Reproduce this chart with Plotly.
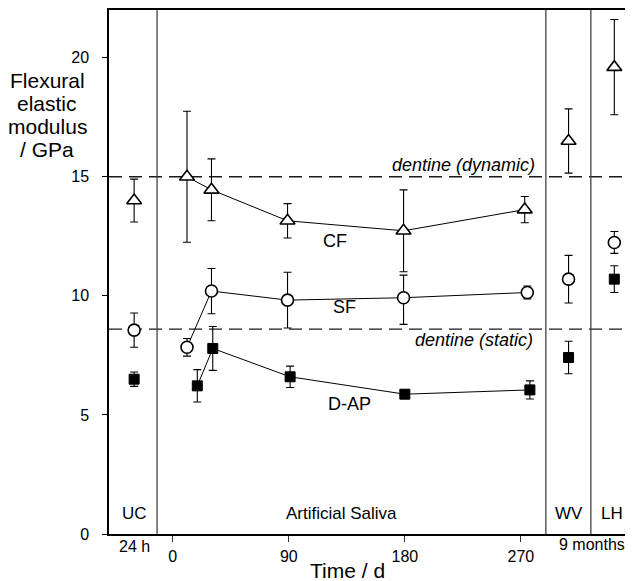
import plotly.graph_objects as go

# ---------------- data ----------------
# x positions on a single day axis (UC, WV, LH are placed in their own bands)
uc_x = -30
wv_x = 307
lh_x = 342.5

# CF (triangles)
cf_days = [11, 30, 89, 179, 273]
cf_vals = [15.0, 14.45, 13.15, 12.73, 13.62]
cf_err = [2.75, 1.3, 0.72, 1.72, 0.55]
cf_other_x = [uc_x, wv_x, lh_x]
cf_other_vals = [14.0, 16.5, 19.6]
cf_other_err = [0.9, 1.35, 2.0]

# SF (circles)
sf_days = [11, 30, 89, 179, 275]
sf_vals = [7.84, 10.2, 9.82, 9.92, 10.14]
sf_err_plus = [0.37, 0.95, 1.17, 0.95, 0.27]
sf_err_minus = [0.37, 0.95, 1.17, 1.12, 0.27]
sf_other_x = [uc_x, wv_x, lh_x]
sf_other_vals = [8.56, 10.7, 12.24]
sf_other_err = [0.72, 1.0, 0.46]

# D-AP (filled squares)
dap_days = [19, 31, 91, 180, 277]
dap_vals = [6.22, 7.79, 6.6, 5.87, 6.05]
dap_err = [0.68, 0.92, 0.45, 0.1, 0.38]
dap_other_x = [uc_x, wv_x, lh_x]
dap_other_vals = [6.5, 7.41, 10.7]
dap_other_err = [0.3, 0.68, 0.56]

# reference lines
dentine_dynamic = 15.0
dentine_static = 8.6

# band separators (day axis) and band labels
separators = [-12.2, 289.4, 324.3]
band_labels = ["UC", "Artificial Saliva", "WV", "LH"]
band_label_x = [-30, 131, 307, 340.5]

# x ticks
x_tickvals = [0, 90, 180, 270]
x_ticktext = ["0", "90", "180", "270"]
y_tickvals = [0, 5, 10, 15, 20]

# y title lines
y_title_lines = ["Flexural", "elastic", "modulus", "/ GPa"]

FONT = "Arial, Liberation Sans, sans-serif"
PLOT_H = 524.0  # plot area height in px
PLOT_W = 524.0
AXIS_PX = 534.7  # page y of the x-axis line

fig = go.Figure()

def eb(arr, arrm=None):
    d = dict(type="data", array=arr, color="black", thickness=1.1, width=4, visible=True)
    if arrm is not None:
        d["symmetric"] = False
        d["arrayminus"] = arrm
    return d

tri = dict(symbol="triangle-up", size=13, color="white", line=dict(color="black", width=1.6))
cir = dict(symbol="circle", size=12, color="white", line=dict(color="black", width=1.6))
sq = dict(symbol="square", size=10, color="black", line=dict(color="black", width=1))

# CF
fig.add_trace(go.Scatter(x=cf_days, y=cf_vals, mode="lines+markers",
                         line=dict(color="black", width=1), marker=tri,
                         error_y=eb(cf_err), showlegend=False))
fig.add_trace(go.Scatter(x=cf_other_x, y=cf_other_vals, mode="markers", marker=tri,
                         error_y=eb(cf_other_err), showlegend=False))
# SF
fig.add_trace(go.Scatter(x=sf_days, y=sf_vals, mode="lines+markers",
                         line=dict(color="black", width=1), marker=cir,
                         error_y=eb(sf_err_plus, sf_err_minus), showlegend=False))
fig.add_trace(go.Scatter(x=sf_other_x, y=sf_other_vals, mode="markers", marker=cir,
                         error_y=eb(sf_other_err), showlegend=False))
# D-AP
fig.add_trace(go.Scatter(x=dap_days, y=dap_vals, mode="lines+markers",
                         line=dict(color="black", width=1), marker=sq,
                         error_y=eb(dap_err), showlegend=False))
fig.add_trace(go.Scatter(x=dap_other_x, y=dap_other_vals, mode="markers", marker=sq,
                         error_y=eb(dap_other_err), showlegend=False))

shapes = []
for yv in [dentine_dynamic, dentine_static]:
    shapes.append(dict(type="line", xref="paper", x0=0, x1=1, yref="y", y0=yv, y1=yv,
                       line=dict(color="#1a1a1a", width=1.3, dash="13px,7px"), layer="below"))
for sx in separators:
    shapes.append(dict(type="line", xref="x", x0=sx, x1=sx, yref="paper", y0=0, y1=1,
                       line=dict(color="#444", width=1.3), layer="below"))

annotations = []
for lab, lx in zip(band_labels, band_label_x):
    annotations.append(dict(x=lx, y=0.85, xref="x", yref="y", text=lab, showarrow=False,
                            font=dict(family=FONT, size=17, color="black")))
annotations += [
    dict(x=282.5, y=15.5, xref="x", yref="y", text="<i>dentine (dynamic)</i>", showarrow=False,
         xanchor="right", font=dict(family=FONT, size=18, color="black")),
    dict(x=281, y=8.14, xref="x", yref="y", text="<i>dentine (static)</i>", showarrow=False,
         xanchor="right", font=dict(family=FONT, size=18, color="black")),
    dict(x=125.7, y=12.31, xref="x", yref="y", text="CF", showarrow=False,
         font=dict(family=FONT, size=18, color="black")),
    dict(x=133.4, y=9.51, xref="x", yref="y", text="SF", showarrow=False,
         font=dict(family=FONT, size=18, color="black")),
    dict(x=136.7, y=5.45, xref="x", yref="y", text="D-AP", showarrow=False,
         font=dict(family=FONT, size=18, color="black")),
    # labels below the axis (pixel offsets below the x axis line converted to paper units)
    dict(x=uc_x, y=-12.5 / PLOT_H, xref="x", yref="paper", text="24 h", showarrow=False,
         yanchor="middle", font=dict(family=FONT, size=16, color="black")),
    dict(x=(592 - 172.8) / 1.289, y=-10 / PLOT_H, xref="x", yref="paper", text="9 months",
         showarrow=False, yanchor="middle", font=dict(family=FONT, size=16, color="black")),
    dict(x=(347 - 109) / PLOT_W, y=-36 / PLOT_H, xref="paper", yref="paper", text="Time / d",
         showarrow=False, yanchor="middle", font=dict(family=FONT, size=21, color="black")),
]
# y-axis title, one annotation per line (page pixel centres)
for line_text, py in zip(y_title_lines, [81, 104, 127, 150]):
    annotations.append(dict(x=(47 - 109) / PLOT_W, y=(AXIS_PX - py) / PLOT_H,
                            xref="paper", yref="paper", text=line_text, showarrow=False,
                            xanchor="center", yanchor="middle",
                            font=dict(family=FONT, size=21, color="black")))

# the page body has an 8px margin, so the figure is shifted by 8px; compensate
fig.update_layout(
    width=625, height=573,
    margin=dict(l=101, r=0, t=2, b=47),
    paper_bgcolor="white", plot_bgcolor="white",
    font=dict(family=FONT, size=15, color="black"),
    shapes=shapes, annotations=annotations,
    xaxis=dict(range=[-49.5, 357], tickvals=x_tickvals, ticktext=x_ticktext,
               ticks="outside", ticklen=6, tickwidth=1.1, tickcolor="#333",
               showline=True, linecolor="black", linewidth=1.5, mirror=True,
               showgrid=False, zeroline=False, ticklabelstandoff=1,
               tickfont=dict(family=FONT, size=16, color="black")),
    yaxis=dict(range=[0, 22], tickvals=y_tickvals, ticks="outside", ticklen=5,
               tickwidth=1.1, tickcolor="black",
               showline=True, linecolor="black", linewidth=1.5,
               showgrid=False, zeroline=False, ticklabelstandoff=10,
               tickfont=dict(family=FONT, size=16, color="black")),
)

fig.write_html("out.html")
